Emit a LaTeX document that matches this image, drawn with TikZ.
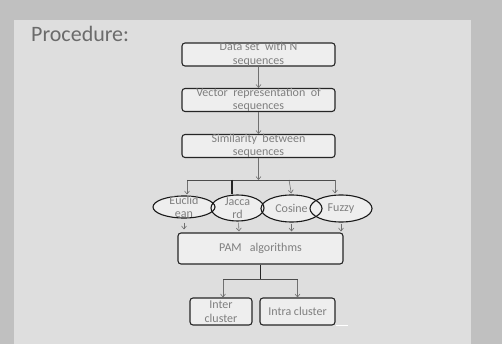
\documentclass[tikz,border=0pt]{standalone}
\usepackage{fontspec}
\setmainfont{Carlito}
\usetikzlibrary{arrows.meta,shapes.geometric}
\definecolor{slidebg}{HTML}{C0C0C0}
\definecolor{panelbg}{HTML}{DEDEDE}
\definecolor{boxfill}{HTML}{EEEEEE}
\definecolor{boxtext}{HTML}{7F7F7F}
\definecolor{linkgray}{HTML}{707070}
\tikzset{
  procbox/.style={draw=black!85, line width=1.1pt, fill=boxfill, rounded corners=3pt, inner sep=0pt},
  boxlabel/.style={text=boxtext, font=\fontsize{12}{13.5}\selectfont, align=center, inner sep=0pt},
  measure/.style={ellipse, inner sep=0pt},
  link/.style={draw=linkgray, line width=0.6pt, -{Straight Barb[length=3pt,width=5pt]}},
  bar/.style={draw=black!70, line width=0.9pt},
}
\begin{document}
\begin{tikzpicture}[x=1pt,y=-1pt]
      % slide background
      \fill[slidebg] (0,0) rectangle (502,344);
      \fill[panelbg] (14,20) rectangle (471,344);
      \useasboundingbox (0,0) rectangle (502,344);
      \node[anchor=base west, inner sep=0pt, text=black!58, font=\fontsize{22}{26}\selectfont] (title) at (31,42) {Procedure:};

      % boxes
      \node[procbox, minimum width=153pt, minimum height=23pt] (data) at (258.5,54.5) {};
      \node[procbox, minimum width=153pt, minimum height=23pt] (vector) at (258.5,100) {};
      \node[procbox, minimum width=153pt, minimum height=23pt] (sim) at (258.5,146) {};
      \node[procbox, minimum width=165pt, minimum height=31pt] (pam) at (260.5,248.5) {};
      \node[procbox, minimum width=62pt, minimum height=27pt] (inter) at (221,311.5) {};
      \node[procbox, minimum width=75pt, minimum height=27pt] (intra) at (297.5,311.5) {};

      \node[boxlabel] at (data) {Data set\ \ with N\\sequences};
      \node[boxlabel] at (vector) {Vector\ \ representation\ \ of\\sequences};
      \node[boxlabel] at (sim) {Similarity\ \ between\\sequences};
      \node[boxlabel] at (pam) {PAM\ \ \ algorithms};
      \node[boxlabel] at (inter) {Inter\\cluster};
      \node[boxlabel] at (intra) {Intra cluster};

      % ellipses: fill first, outlines after
      \foreach \x/\y/\w/\h in {184/207/62/22, 237.5/208/53/26, 291.5/208.5/61/27, 341/208.5/62/27}
        \node[measure, fill=boxfill, minimum width=\w pt, minimum height=\h pt] at (\x,\y) {};
      \begin{scope}[every node/.style={measure, draw=black!90, line width=1.1pt}]
        \node[minimum width=62pt, minimum height=22pt] (euclid) at (184,207) {};
        \node[minimum width=53pt, minimum height=26pt] (jaccard) at (237.5,208) {};
        \node[minimum width=61pt, minimum height=27pt] (cosine) at (291.5,208.5) {};
        \node[minimum width=62pt, minimum height=27pt] (fuzzy) at (341,208.5) {};
      \end{scope}
      \node[boxlabel] at (euclid) {Euclid\\ean};
      \node[boxlabel] at (jaccard) {Jacca\\rd};
      \node[boxlabel] at (cosine) {Cosine};
      \node[boxlabel] at (fuzzy) {Fuzzy};

      % connectors
      \coordinate (b1) at (187,180);
      \coordinate (b2) at (232,180);
      \coordinate (b3) at (289,180);
      \coordinate (b4) at (335,180);
      \coordinate (split) at (260.5,279);
      \begin{scope}[link]
        \draw (data.south) -- (vector.north);
        \draw (vector.south) -- (sim.north);
        \draw (sim.south) -- (sim.south |- b1);
        \draw[shorten >=1pt] (b1) -- (b1 |- euclid.north);
        \draw[shorten >=1pt] (b3) -- (cosine.north);
        \draw[shorten >=1pt] (b4) -- (b4 |- fuzzy.north);
        \draw[shorten <=4pt, shorten >=3pt] (euclid.south) -- (euclid.south |- pam.north);
        \draw[shorten <=1pt, shorten >=1pt] (jaccard.south) ++(1,0) -- (239,0 |- pam.north);
        \draw[shorten <=1pt, shorten >=1pt] (cosine.south) -- (cosine.south |- pam.north);
        \draw[shorten <=1pt, shorten >=1pt] (fuzzy.south) -- (fuzzy.south |- pam.north);
        \draw (223,279) -- (223,0 |- inter.north);
        \draw (intra.north |- split) -- (intra.north);
      \end{scope}
      \draw[bar] (b1) -- (b4);
      \draw[draw=black!85, line width=1.2pt] (b2) -- (b2 |- jaccard.north);
      \draw[draw=black!85, line width=1.2pt] (pam.south) -- (split);
      \draw[bar] (223,279) -- (intra.north |- split);
      \draw[white, line width=0.8pt] (intra.south east) ++(0,-0.5) -- ++(12,0);
    \end{tikzpicture}
\end{document}
